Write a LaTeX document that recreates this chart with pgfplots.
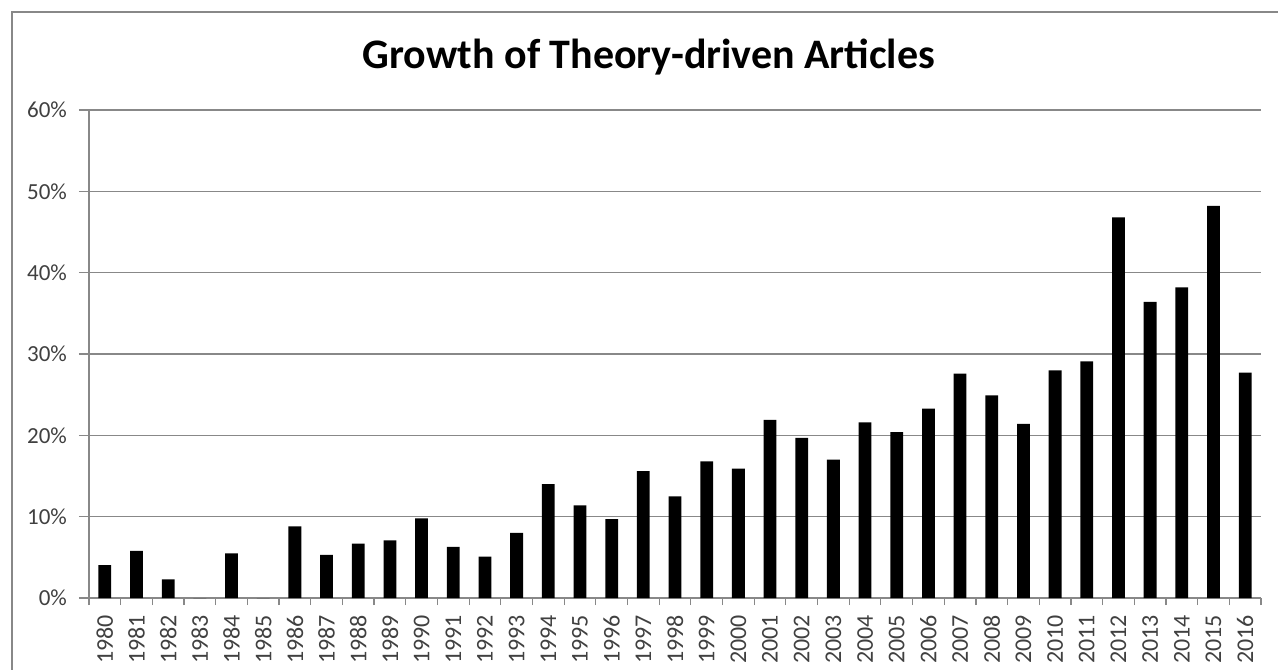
\documentclass[border=0pt]{standalone}
\usepackage{fontspec}
\setmainfont{Carlito}
\usepackage{pgfplots}
\usepackage{pgfplotstable}
\pgfplotsset{compat=1.18}
\pgfplotstableread{
x y
0 4.05
1 5.8
2 2.3
3 0
4 5.5
5 0
6 8.8
7 5.3
8 6.7
9 7.1
10 9.8
11 6.3
12 5.1
13 8.0
14 14.0
15 11.4
16 9.7
17 15.6
18 12.5
19 16.8
20 15.9
21 21.9
22 19.7
23 17.0
24 21.6
25 20.4
26 23.3
27 27.6
28 24.9
29 21.4
30 28.0
31 29.1
32 46.8
33 36.4
34 38.2
35 48.2
36 27.7
}\datatable
\definecolor{gridgray}{HTML}{888888}
\definecolor{labgray}{HTML}{404040}
\begin{document}
\begin{tikzpicture}
\useasboundingbox (0,0) rectangle (639pt,-334.5pt);
\draw[line width=0.8pt, gridgray] (6pt,-400pt) -- (6pt,-6pt) -- (700pt,-6pt);
\node[anchor=base, font=\fontsize{21}{24}\selectfont\bfseries] at (324.5pt,-34.2pt) {Growth of Theory-driven Articles};
\begin{axis}[
  at={(44.5pt,-299pt)}, anchor=south west,
  scale only axis, width=586pt, height=244pt,
  xmin=-0.5, xmax=36.5, ymin=0, ymax=60,
  axis x line*=bottom, axis y line*=left,
  axis line style={draw=gridgray, line width=0.6pt, -},
  ymajorgrids, grid style={draw=gridgray, line width=0.6pt},
  ytick={0,10,...,60},
  yticklabels={0\%,10\%,20\%,30\%,40\%,50\%,60\%},
  xtick={0,...,36},
  xticklabels={1980,1981,1982,1983,1984,1985,1986,1987,1988,1989,1990,1991,1992,1993,1994,1995,1996,1997,1998,1999,2000,2001,2002,2003,2004,2005,2006,2007,2008,2009,2010,2011,2012,2013,2014,2015,2016},
  minor xtick={-0.5,0.5,...,36.5},
  xtick style={draw=none},
  minor x tick style={draw=gridgray, line width=0.6pt},
  ytick style={draw=gridgray, line width=0.6pt},
  tick align=outside,
  major tick length=5pt, minor tick length=3.5pt,
  tick label style={text=labgray},
  y tick label style={font=\fontsize{11.5}{13}\selectfont, xshift=-2.5pt},
  x tick label style={font=\fontsize{12}{14}\selectfont, rotate=90, anchor=east},
]
\addplot[ybar, bar width=6.4pt, fill=black, draw=none] table[x=x,y=y] {\datatable};
\end{axis}
\end{tikzpicture}
\end{document}
